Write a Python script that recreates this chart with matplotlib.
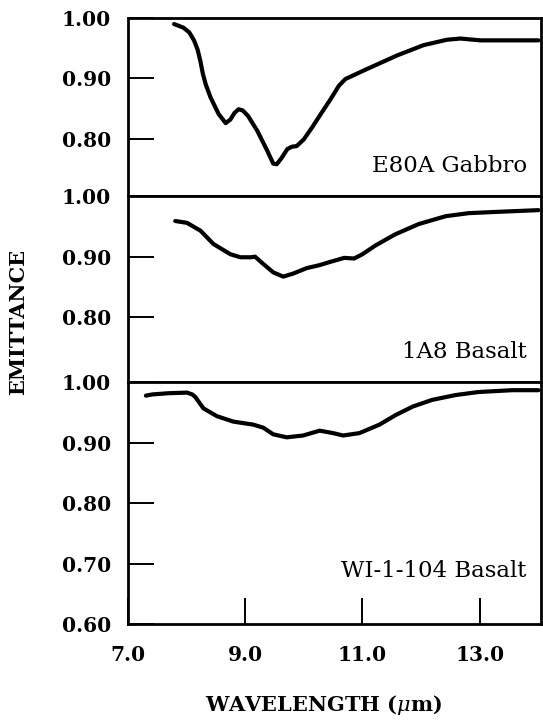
import matplotlib
matplotlib.use("Agg")
import matplotlib.pyplot as plt

plt.rcParams['font.family'] = ['DejaVu Serif']
plt.rcParams['mathtext.fontset'] = 'dejavuserif'

# Emittance spectra (wavelength in micrometres)
gabbro_wl = [7.79, 7.95, 8.05, 8.13, 8.19, 8.24, 8.28, 8.33, 8.41, 8.55, 8.67, 8.75,
             8.82, 8.89, 8.96, 9.05, 9.21, 9.38, 9.48, 9.54, 9.62, 9.72, 9.80, 9.88,
             10.00, 10.15, 10.29, 10.46, 10.60, 10.71, 11.02, 11.59, 12.04, 12.44,
             12.67, 13.01, 14.00]
gabbro_em = [0.990, 0.984, 0.976, 0.963, 0.948, 0.928, 0.908, 0.890, 0.869, 0.841,
             0.826, 0.832, 0.843, 0.849, 0.847, 0.838, 0.813, 0.780, 0.759, 0.758,
             0.768, 0.783, 0.787, 0.788, 0.799, 0.820, 0.841, 0.866, 0.888, 0.899,
             0.913, 0.938, 0.955, 0.964, 0.966, 0.963, 0.963]

basalt_1a8_wl = [7.81, 8.01, 8.24, 8.46, 8.75, 8.92, 9.10, 9.17, 9.31, 9.48, 9.65,
                 9.82, 10.05, 10.27, 10.44, 10.69, 10.86, 11.00, 11.23, 11.56, 11.96,
                 12.42, 12.81, 13.26, 14.00]
basalt_1a8_em = [0.959, 0.956, 0.943, 0.921, 0.904, 0.899, 0.899, 0.900, 0.888, 0.874,
                 0.867, 0.872, 0.881, 0.886, 0.891, 0.898, 0.897, 0.904, 0.919, 0.937,
                 0.954, 0.967, 0.972, 0.974, 0.977]

basalt_wi_wl = [7.31, 7.42, 7.70, 8.01, 8.10, 8.15, 8.29, 8.52, 8.80, 9.14, 9.31, 9.48,
                9.71, 9.99, 10.27, 10.50, 10.67, 10.95, 11.29, 11.57, 11.86, 12.19,
                12.59, 12.98, 13.55, 14.00]
basalt_wi_em = [0.978, 0.980, 0.982, 0.983, 0.980, 0.976, 0.957, 0.944, 0.935, 0.930,
                0.925, 0.914, 0.909, 0.912, 0.920, 0.916, 0.912, 0.916, 0.930, 0.946,
                0.960, 0.971, 0.979, 0.984, 0.987, 0.987]

sample_names = ["E80A Gabbro", "1A8 Basalt", "WI-1-104 Basalt"]
y_limits = [(0.705, 1.00), (0.692, 1.00), (0.60, 1.00)]
y_ticks = [[0.80, 0.90, 1.00], [0.80, 0.90, 1.00], [0.60, 0.70, 0.80, 0.90, 1.00]]
x_ticks = [7.0, 9.0, 11.0, 13.0]
x_ticklabels = ["7.0", "9.0", "11.0", "13.0"]
label_y = [0.745, 0.733, 0.678]

series = [(gabbro_wl, gabbro_em), (basalt_1a8_wl, basalt_1a8_em),
          (basalt_wi_wl, basalt_wi_em)]

fig = plt.figure(figsize=(5.43, 7.2), dpi=100)
heights = [hi - lo for lo, hi in y_limits]
gs = fig.add_gridspec(3, 1, height_ratios=heights, hspace=0,
                      left=0.2352, right=0.997, top=0.975, bottom=0.1333)

for i, ((wl, em), name, ylim, yt, ly) in enumerate(
        zip(series, sample_names, y_limits, y_ticks, label_y)):
    ax = fig.add_subplot(gs[i])
    ax.plot(wl, em, color='black', lw=3.0, solid_capstyle='round',
            solid_joinstyle='round')
    ax.set_xlim(7.0, 14.05)
    ax.set_ylim(*ylim)
    for sp in ax.spines.values():
        sp.set_linewidth(2.0)
    ax.set_yticks(yt, [f"{v:.2f}" for v in yt], fontweight='bold', fontsize=14.5)
    ax.tick_params(axis='y', direction='in', length=19, width=1.4, pad=12)
    if i == 2:
        ax.set_xticks(x_ticks, x_ticklabels, fontweight='bold', fontsize=14.5)
        ax.tick_params(axis='x', direction='in', length=19, width=1.4, pad=15)
    else:
        ax.set_xticks([])
    ax.text(13.80, ly, name, ha='right', va='baseline', fontsize=16.5)

fig.text(18 / 543, 1 - 322 / 720, "EMITTANCE", rotation=90, ha='center',
         va='center', fontweight='bold', fontsize=15)
fig.text(324 / 543, 1 - 705 / 720, r"WAVELENGTH ($\mu$m)", ha='center',
         va='center', fontweight='bold', fontsize=15)

fig.savefig("out.png", dpi=100, facecolor='white')
